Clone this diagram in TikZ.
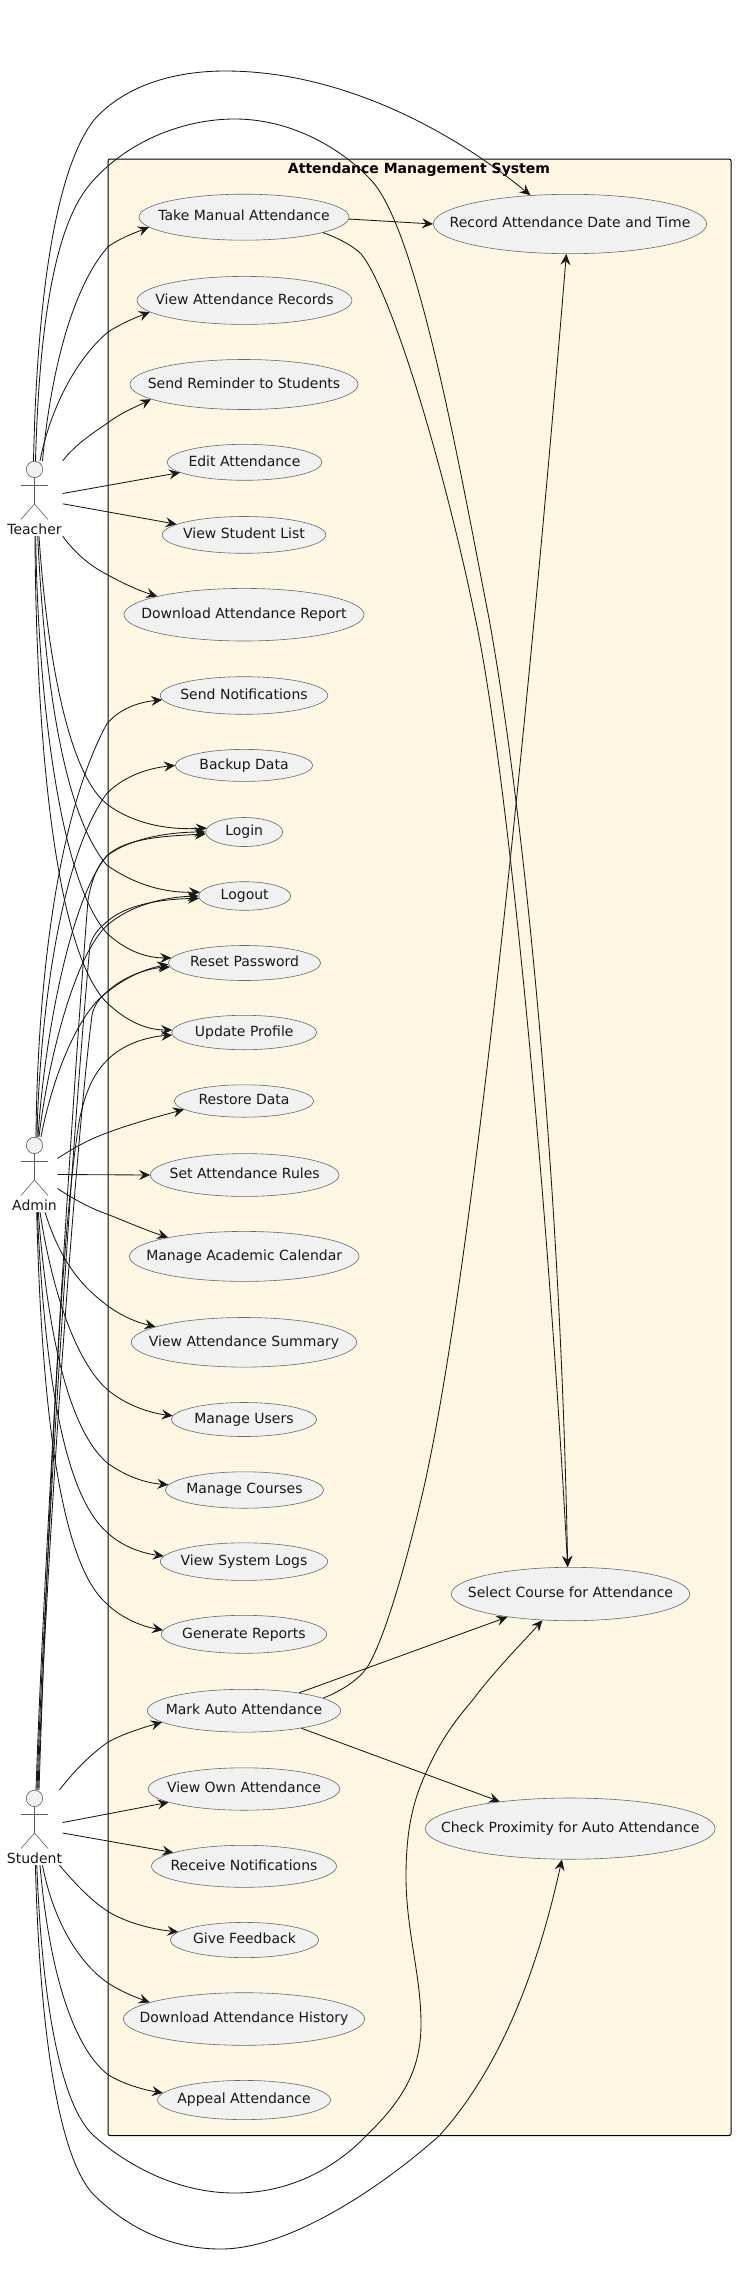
\documentclass[tikz,border=0pt]{standalone}
\usepackage{fontspec}
\setmainfont{DejaVu Sans}
\usetikzlibrary{shapes.geometric, arrows.meta}
\definecolor{linecol}{HTML}{181818}
\definecolor{ucfill}{HTML}{F1F1F1}
\definecolor{sysfill}{HTML}{FDF6E3}
\newcommand{\uc}[1]{\hbox to 0pt{\hss #1\hss}}
\tikzset{
  usecase/.style = {ellipse, draw=linecol!65, fill=ucfill, line width=0.6pt, inner sep=0pt, text=linecol, text height=10.5pt, text depth=3pt},
  actorbox/.style = {rectangle, inner sep=0pt, minimum height=75pt},
  actorline/.style = {draw=linecol!70, line width=0.6pt},
  sysbox/.style = {draw=black, fill=sysfill, line width=1pt, rounded corners=2pt},
  link/.style = {draw=linecol, line width=0.85pt, -{Stealth[length=11pt, width=10pt, inset=4pt]}}
}

\begin{document}
\begin{tikzpicture}[x=1pt, y=-1pt, font=\fontsize{14}{16}\selectfont]
\useasboundingbox (0,0) rectangle (736,2280);
% SYSTEM BOX
\draw [sysbox] (108,159) rectangle (731,2135.5);
\node (SysTitle) at (419,170) [text=black] {\textbf{Attendance Management System}};
% LEFT COLUMN
\node (TakeManual) [usecase, minimum width=210pt, minimum height=46pt] at (244,217.2) {\uc{Take Manual Attendance}};
\node (ViewRecords) [usecase, minimum width=215pt, minimum height=48pt] at (244.5,300.4) {\uc{View Attendance Records}};
\node (SendReminder) [usecase, minimum width=228pt, minimum height=50pt] at (244,384.5) {\uc{Send Reminder to Students}};
\node (EditAtt) [usecase, minimum width=155pt, minimum height=36pt] at (244.5,462.3) {\uc{Edit Attendance}};
\node (StudentList) [usecase, minimum width=163.6pt, minimum height=36.8pt] at (244,534.9) {\uc{View Student List}};
\node (DownReport) [usecase, minimum width=240pt, minimum height=52.6pt] at (244,614.7) {\uc{Download Attendance Report}};
\node (SendNotif) [usecase, minimum width=167.4pt, minimum height=37.6pt] at (244,695.5) {\uc{Send Notifications}};
\node (Backup) [usecase, minimum width=137.4pt, minimum height=32pt] at (244,765.4) {\uc{Backup Data}};
\node (Login) [usecase, minimum width=77pt, minimum height=29pt] at (244.2,832) {\uc{Login}};
\node (Logout) [usecase, minimum width=92pt, minimum height=28.6pt] at (244.7,896) {\uc{Logout}};
\node (ResetPw) [usecase, minimum width=152.4pt, minimum height=35pt] at (244.5,963) {\uc{Reset Password}};
\node (UpdProfile) [usecase, minimum width=145pt, minimum height=34.4pt] at (244.2,1032.5) {\uc{Update Profile}};
\node (Restore) [usecase, minimum width=139.4pt, minimum height=32.4pt] at (244,1101) {\uc{Restore Data}};
\node (SetRules) [usecase, minimum width=188.6pt, minimum height=42.8pt] at (244.7,1175) {\uc{Set Attendance Rules}};
\node (Calendar) [usecase, minimum width=229.6pt, minimum height=50pt] at (244.2,1256.4) {\uc{Manage Academic Calendar}};
\node (Summary) [usecase, minimum width=225.4pt, minimum height=49.6pt] at (244,1342.3) {\uc{View Attendance Summary}};
\node (Users) [usecase, minimum width=145.4pt, minimum height=34pt] at (244,1419.5) {\uc{Manage Users}};
\node (Courses) [usecase, minimum width=158.4pt, minimum height=36.4pt] at (244.5,1490) {\uc{Manage Courses}};
\node (SysLogs) [usecase, minimum width=167.4pt, minimum height=37.6pt] at (244,1561.6) {\uc{View System Logs}};
\node (Reports) [usecase, minimum width=165.4pt, minimum height=38pt] at (244,1634.3) {\uc{Generate Reports}};
\node (MarkAuto) [usecase, minimum width=193.4pt, minimum height=42.8pt] at (244,1710.7) {\uc{Mark Auto Attendance}};
\node (ViewOwn) [usecase, minimum width=191.6pt, minimum height=42.4pt] at (244,1789) {\uc{View Own Attendance}};
\node (Receive) [usecase, minimum width=185pt, minimum height=42pt] at (244,1866.3) {\uc{Receive Notifications}};
\node (Feedback) [usecase, minimum width=148.4pt, minimum height=35.2pt] at (244.5,1940) {\uc{Give Feedback}};
\node (DownHistory) [usecase, minimum width=241.2pt, minimum height=52.6pt] at (244,2019) {\uc{Download Attendance History}};
\node (Appeal) [usecase, minimum width=173pt, minimum height=39.2pt] at (244,2100) {\uc{Appeal Attendance}};
% RIGHT COLUMN
\node (RecordDate) [usecase, minimum width=273.4pt, minimum height=59.4pt] at (570,224) {\uc{Record Attendance Date and Time}};
\node (SelectCourse) [usecase, minimum width=238.4pt, minimum height=53.4pt] at (570.5,1594) {\uc{Select Course for Attendance}};
\node (CheckProx) [usecase, minimum width=289.8pt, minimum height=61.2pt] at (570.2,1828.6) {\uc{Check Proximity for Auto Attendance}};
% ACTORS
\foreach \who/\y/\w in {Teacher/461/56, Admin/1137/45.6, Student/1790/56} {
  \node (\who) [actorbox, minimum width=\w pt] at (34.5,\y+37.5) {};
  \node (\who Head) [circle, draw=linecol!70, fill=ucfill, line width=0.6pt, minimum size=16.4pt, inner sep=0pt] at (34.5,\y+8.4) {};
  \node (\who Label) [text=linecol, text height=10.5pt, text depth=0pt] at (34.5,\y+68) {\who};
  \draw [actorline] (21,\y+24.5) -- (48,\y+24.5);
  \draw [actorline] (\who Head.south) -- (34.5,\y+43) -- (21,\y+58.5);
  \draw [actorline] (34.5,\y+43) -- (48,\y+58.5);
}
% TEACHER LINKS
\draw [link] ([xshift=-1pt]Teacher.north) .. controls (37,300) and (55,170) .. (94,120) .. controls (125,85) and (175,71) .. (225.3,71) .. controls (330,71) and (438,120) .. (RecordDate.144);
\draw [link] ([xshift=1pt]Teacher.north) .. controls (40,300) and (60,215) .. (94,179.7) .. controls (130,140) and (185,119) .. (234.7,119) .. controls (293,119) and (343,150) .. (371,180) .. controls (418,230) and (460,470) .. (489.3,620) .. controls (520,790) and (560,1150) .. (SelectCourse.96);
\draw [link] ([xshift=8pt]Teacher.north) .. controls (50,380) and (70,290) .. (108,246.7) .. controls (122,237) and (137,232) .. (TakeManual.186.4);
\draw [link] ([xshift=5.5pt]Teacher.north) .. controls (50,410) and (75,360) .. (108,332) .. controls (122,323) and (137,317) .. (ViewRecords.187.7);
\draw [link] (Teacher.north east) .. controls (75,445) and (90,435) .. (108,422.7) .. controls (122,412) and (140,405) .. (SendReminder.189.9);
\draw [link] ([yshift=5pt]Teacher.east) -- (EditAtt.189.7);
\draw [link] ([yshift=-5.3pt]Teacher.east) -- (StudentList.171);
\draw [link] (Teacher.south east) .. controls (75,553) and (90,566) .. (108,575) .. controls (122,583) and (140,591) .. (DownReport.168.3);
\draw [link] ([xshift=4.5pt]Teacher.south) .. controls (46,640) and (65,770) .. (106.7,804) .. controls (135,825) and (170,830) .. (Login.174);
\draw [link] ([xshift=3.2pt]Teacher.south) .. controls (45,690) and (65,815) .. (106.7,865) .. controls (135,885) and (165,893) .. (Logout.175);
\draw [link] ([xshift=1.2pt]Teacher.south) .. controls (38,700) and (60,880) .. (106.7,933) .. controls (125,950) and (145,958) .. (ResetPw.176);
\draw [link] ([xshift=0.5pt]Teacher.south) .. controls (36,740) and (55,950) .. (106.7,1002.5) .. controls (125,1020) and (145,1030) .. (UpdProfile.178);
% ADMIN LINKS
\draw [link] ([xshift=1.5pt]Admin.north) .. controls (37,1020) and (50,830) .. (106.7,724) .. controls (120,708) and (140,702) .. (SendNotif.183);
\draw [link] ([xshift=2.5pt]Admin.north) .. controls (39,1030) and (58,860) .. (106.7,793.6) .. controls (125,775) and (150,768) .. (Backup.180);
\draw [link] ([xshift=3.5pt]Admin.north) .. controls (44,1040) and (70,900) .. (106.7,856) .. controls (130,838) and (170,832) .. (Login.180);
\draw [link] ([xshift=4.5pt]Admin.north) .. controls (48,1060) and (75,955) .. (106.7,925.7) .. controls (130,905) and (165,897) .. (Logout.180);
\draw [link] ([xshift=6.5pt]Admin.north) .. controls (50,1090) and (70,1030) .. (98,1000) .. controls (125,975) and (150,968) .. (ResetPw.181);
\draw [link] ([yshift=16pt]Admin.east) .. controls (75,1147) and (90,1139) .. (106.7,1133) .. controls (130,1124) and (160,1116) .. (Restore.188.8);
\draw [link] (Admin.east) -- (SetRules.west);
\draw [link] ([yshift=-14pt]Admin.east) .. controls (75,1200) and (90,1208) .. (106.7,1214) .. controls (125,1221) and (145,1230) .. (Calendar.166);
\draw [link] ([xshift=10.5pt]Admin.south) .. controls (60,1260) and (80,1285) .. (106.7,1305) .. controls (120,1315) and (135,1322) .. (Summary.170.8);
\draw [link] ([xshift=5.5pt]Admin.south) .. controls (52,1290) and (75,1360) .. (106.7,1389) .. controls (125,1405) and (150,1413) .. (Users.177.5);
\draw [link] ([xshift=3.8pt]Admin.south) .. controls (48,1340) and (70,1430) .. (106.7,1462.5) .. controls (125,1476) and (145,1483) .. (Courses.176.8);
\draw [link] ([xshift=2.8pt]Admin.south) .. controls (45,1380) and (65,1495) .. (106.7,1532) .. controls (120,1545) and (140,1553) .. (SysLogs.176.8);
\draw [link] ([xshift=2.2pt]Admin.south) .. controls (42,1420) and (62,1565) .. (106.7,1603.6) .. controls (120,1617) and (140,1626) .. (Reports.177.3);
% STUDENT LINKS
\draw [link] ([xshift=1.5pt]Student.north) .. controls (44,1560) and (70,1130) .. (88,900) .. controls (92,878) and (98,865) .. (106.7,856) .. controls (125,838) and (165,836) .. (Login.183);
\draw [link] ([xshift=2.5pt]Student.north) .. controls (45,1560) and (73,1130) .. (90,945) .. controls (93,935) and (99,928) .. (106.7,922) .. controls (125,905) and (160,899) .. (Logout.183);
\draw [link] ([xshift=3.5pt]Student.north) .. controls (46,1560) and (75,1150) .. (92,1015) .. controls (94,1005) and (100,998) .. (106.7,992) .. controls (125,975) and (150,968) .. (ResetPw.183);
\draw [link] ([xshift=4.5pt]Student.north) .. controls (47,1550) and (60,1230) .. (80,1117) .. controls (85,1095) and (92,1075) .. (107.3,1060) .. controls (122,1045) and (145,1037) .. (UpdProfile.182);
\draw [link] ([xshift=25pt]Student.north) .. controls (75,1770) and (90,1755) .. (108,1742) .. controls (125,1733) and (145,1727) .. (MarkAuto.188.8);
\draw [link] ([yshift=5pt]Student.east) -- (ViewOwn.190.4);
\draw [link] ([yshift=-5.5pt]Student.east) -- (Receive.169.5);
\draw [link] ([xshift=25pt]Student.south) .. controls (72,1880) and (90,1900) .. (108,1911.4) .. controls (125,1922) and (150,1929) .. (Feedback.173.8);
\draw [link] ([xshift=8pt]Student.south) .. controls (52,1915) and (75,1960) .. (108,1983) .. controls (120,1991) and (135,1997) .. (DownHistory.170);
\draw [link] ([xshift=5.5pt]Student.south) .. controls (48,1960) and (70,2045) .. (108,2074.7) .. controls (125,2085) and (145,2090) .. (Appeal.175.8);
\draw [link] ([xshift=2.3pt]Student.south) .. controls (42,2000) and (60,2105) .. (94,2136) .. controls (135,2172) and (185,2193) .. (234.7,2193) .. controls (288,2193) and (333,2170) .. (366,2136) .. controls (403,2100) and (421,2070) .. (421,2023.7) .. controls (421,1975) and (406,1930) .. (406,1876.7) .. controls (406,1830) and (413,1800) .. (427,1770.6) .. controls (443,1735) and (460,1715) .. (472.7,1700) .. controls (495,1670) and (525,1640) .. (SelectCourse.223);
\draw [link] ([xshift=0.9pt]Student.south) .. controls (40,2040) and (60,2160) .. (94,2195) .. controls (135,2235) and (180,2249) .. (220.8,2249) .. controls (288,2249) and (378,2190) .. (439,2136) .. controls (508,2060) and (542,1950) .. (CheckProx.255);
% USE CASE LINKS
\draw [link] (TakeManual.359) -- (RecordDate.180);
\draw [link] (TakeManual.349.8) .. controls (343,240) and (354,247) .. (361.5,254.3) .. controls (393,295) and (445,470) .. (475.7,620) .. controls (505,760) and (545,1150) .. (SelectCourse.96);
\draw [link] (MarkAuto.9.1) .. controls (343,1690) and (358,1680) .. (366.7,1668) .. controls (385,1640) and (408,1555) .. (420,1504) .. controls (470,1300) and (530,700) .. (RecordDate.263);
\draw [link] (MarkAuto.18.5) -- (SelectCourse.200.6);
\draw [link] (MarkAuto.343.6) -- (CheckProx.159);
\end{tikzpicture}
\end{document}
